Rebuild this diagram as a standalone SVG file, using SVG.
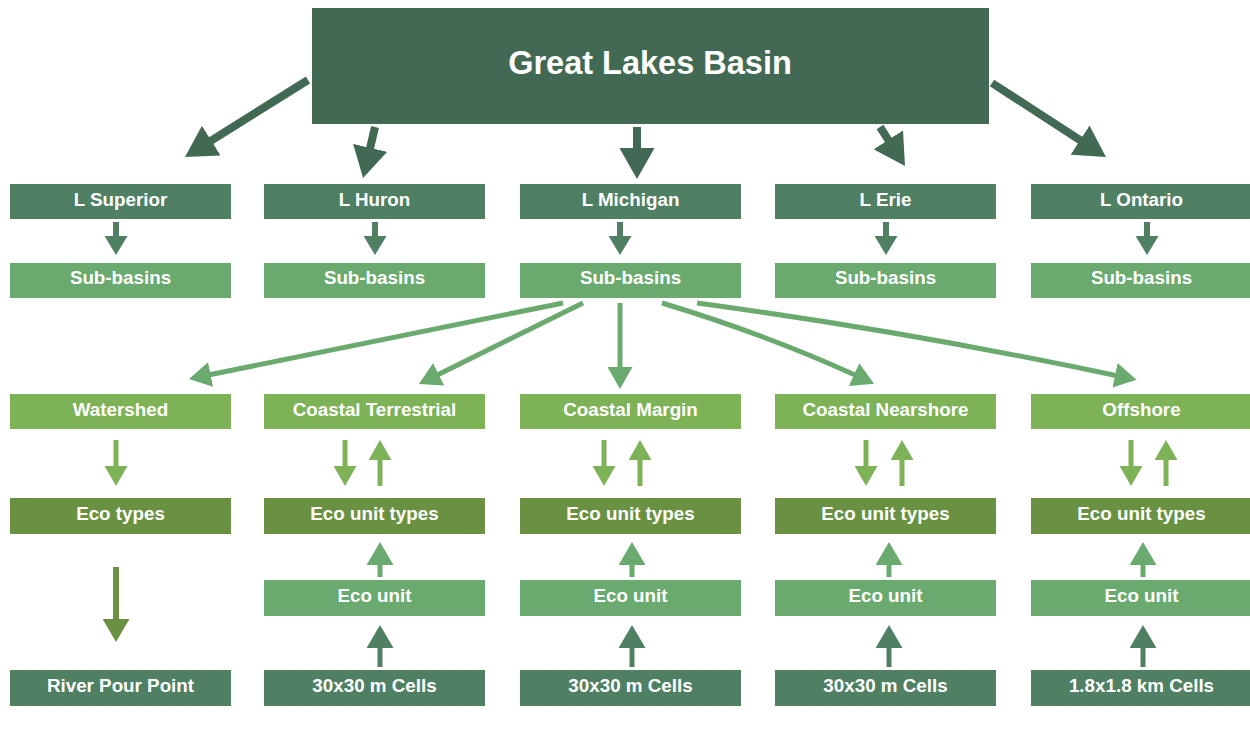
<svg xmlns="http://www.w3.org/2000/svg" width="1250" height="740" viewBox="0 0 1250 740">
<style>
.t{font-family:"Liberation Sans",Arial,sans-serif;font-weight:bold;fill:#ffffff;text-anchor:middle;font-size:18.8px}
.title{font-size:32.5px}
.c0{fill:#426953}
.c1{fill:#4f8063}
.c2{fill:#6aaa6e}
.c3{fill:#7db356}
.c4{fill:#6a9142}
.big{stroke:#426953;stroke-width:8;fill:none}
.s1{stroke:#4f8063;stroke-width:6;fill:none}
.s2{stroke:#6aaa6e;stroke-width:5;fill:none}
.s3{stroke:#7db356;stroke-width:5;fill:none}
.s4{stroke:#6a9142;stroke-width:6;fill:none}
.s5{stroke:#6aaa6e;stroke-width:5;fill:none}
.s6{stroke:#4f8063;stroke-width:5;fill:none}
</style>
<defs>
<marker id="hBig" markerUnits="userSpaceOnUse" markerWidth="31" markerHeight="35" viewBox="0 0 31 35" refX="1" refY="17.5" orient="auto"><path d="M0,0 L31,17.5 L0,35 z" fill="#426953"/></marker>
<marker id="h1" markerUnits="userSpaceOnUse" markerWidth="19" markerHeight="23" viewBox="0 0 19 23" refX="1" refY="11.5" orient="auto"><path d="M0,0 L19,11.5 L0,23 z" fill="#4f8063"/></marker>
<marker id="h2" markerUnits="userSpaceOnUse" markerWidth="22" markerHeight="25" viewBox="0 0 22 25" refX="1" refY="12.5" orient="auto"><path d="M0,0 L22,12.5 L0,25 z" fill="#6aaa6e"/></marker>
<marker id="h3" markerUnits="userSpaceOnUse" markerWidth="20" markerHeight="23" viewBox="0 0 20 23" refX="1" refY="11.5" orient="auto"><path d="M0,0 L20,11.5 L0,23 z" fill="#7db356"/></marker>
<marker id="h4" markerUnits="userSpaceOnUse" markerWidth="23" markerHeight="27" viewBox="0 0 23 27" refX="1" refY="13.5" orient="auto"><path d="M0,0 L23,13.5 L0,27 z" fill="#6a9142"/></marker>
<marker id="h5" markerUnits="userSpaceOnUse" markerWidth="23" markerHeight="27" viewBox="0 0 23 27" refX="1" refY="13.5" orient="auto"><path d="M0,0 L23,13.5 L0,27 z" fill="#6aaa6e"/></marker>
<marker id="h6" markerUnits="userSpaceOnUse" markerWidth="23" markerHeight="27" viewBox="0 0 23 27" refX="1" refY="13.5" orient="auto"><path d="M0,0 L23,13.5 L0,27 z" fill="#4f8063"/></marker>
</defs>

<g id="connectors">
<line class="big" x1="308" y1="80" x2="210.4" y2="141.1" marker-end="url(#hBig)"/>
<line class="big" x1="375" y1="127" x2="369.9" y2="148.8" marker-end="url(#hBig)"/>
<line class="big" x1="637" y1="127" x2="637" y2="149" marker-end="url(#hBig)"/>
<line class="big" x1="880" y1="127" x2="888.8" y2="140.7" marker-end="url(#hBig)"/>
<line class="big" x1="992" y1="83" x2="1080.8" y2="140.7" marker-end="url(#hBig)"/>

<line class="s1" x1="116" y1="222" x2="116" y2="237" marker-end="url(#h1)"/>
<line class="s1" x1="375" y1="222" x2="375" y2="237" marker-end="url(#h1)"/>
<line class="s1" x1="620" y1="222" x2="620" y2="237" marker-end="url(#h1)"/>
<line class="s1" x1="886" y1="222" x2="886" y2="237" marker-end="url(#h1)"/>
<line class="s1" x1="1147" y1="222" x2="1147" y2="237" marker-end="url(#h1)"/>

<line class="s2" x1="563" y1="303" x2="209.6" y2="374.8" marker-end="url(#h2)"/>
<line class="s2" x1="583" y1="303" x2="437.8" y2="374.7" marker-end="url(#h2)"/>
<line class="s2" x1="620" y1="303" x2="620" y2="368" marker-end="url(#h2)"/>
<path class="s2" d="M662,303 Q765,334 855,375" marker-end="url(#h2)"/>
<path class="s2" d="M697,303 Q905,331 1116,375.5" marker-end="url(#h2)"/>

<line class="s3" x1="116" y1="440" x2="116" y2="467" marker-end="url(#h3)"/>
<line class="s3" x1="345" y1="440" x2="345" y2="467" marker-end="url(#h3)"/>
<line class="s3" x1="380" y1="486" x2="380" y2="459" marker-end="url(#h3)"/>
<line class="s3" x1="604" y1="440" x2="604" y2="467" marker-end="url(#h3)"/>
<line class="s3" x1="640" y1="486" x2="640" y2="459" marker-end="url(#h3)"/>
<line class="s3" x1="866" y1="440" x2="866" y2="467" marker-end="url(#h3)"/>
<line class="s3" x1="902" y1="486" x2="902" y2="459" marker-end="url(#h3)"/>
<line class="s3" x1="1131" y1="440" x2="1131" y2="467" marker-end="url(#h3)"/>
<line class="s3" x1="1166" y1="486" x2="1166" y2="459" marker-end="url(#h3)"/>

<line class="s4" x1="116" y1="567" x2="116" y2="620" marker-end="url(#h4)"/>

<line class="s5" x1="380" y1="577" x2="380" y2="564" marker-end="url(#h5)"/>
<line class="s5" x1="632" y1="577" x2="632" y2="564" marker-end="url(#h5)"/>
<line class="s5" x1="889" y1="577" x2="889" y2="564" marker-end="url(#h5)"/>
<line class="s5" x1="1143" y1="577" x2="1143" y2="564" marker-end="url(#h5)"/>

<line class="s6" x1="380" y1="667" x2="380" y2="647" marker-end="url(#h6)"/>
<line class="s6" x1="632" y1="667" x2="632" y2="647" marker-end="url(#h6)"/>
<line class="s6" x1="889" y1="667" x2="889" y2="647" marker-end="url(#h6)"/>
<line class="s6" x1="1143" y1="667" x2="1143" y2="647" marker-end="url(#h6)"/>
</g>

<g id="basin"><rect class="c0" x="312" y="8" width="677" height="116"/><text class="t title" x="650" y="74">Great Lakes Basin</text></g>

<g id="superior"><rect class="c1" x="10" y="184" width="221" height="35"/><text class="t" x="120.5" y="206">L Superior</text></g>
<g id="huron"><rect class="c1" x="264" y="184" width="221" height="35"/><text class="t" x="374.5" y="206">L Huron</text></g>
<g id="michigan"><rect class="c1" x="520" y="184" width="221" height="35"/><text class="t" x="630.5" y="206">L Michigan</text></g>
<g id="erie"><rect class="c1" x="775" y="184" width="221" height="35"/><text class="t" x="885.5" y="206">L Erie</text></g>
<g id="ontario"><rect class="c1" x="1031" y="184" width="221" height="35"/><text class="t" x="1141.5" y="206">L Ontario</text></g>

<g id="sub1"><rect class="c2" x="10" y="263" width="221" height="35"/><text class="t" x="120.5" y="284">Sub-basins</text></g>
<g id="sub2"><rect class="c2" x="264" y="263" width="221" height="35"/><text class="t" x="374.5" y="284">Sub-basins</text></g>
<g id="sub3"><rect class="c2" x="520" y="263" width="221" height="35"/><text class="t" x="630.5" y="284">Sub-basins</text></g>
<g id="sub4"><rect class="c2" x="775" y="263" width="221" height="35"/><text class="t" x="885.5" y="284">Sub-basins</text></g>
<g id="sub5"><rect class="c2" x="1031" y="263" width="221" height="35"/><text class="t" x="1141.5" y="284">Sub-basins</text></g>

<g id="watershed"><rect class="c3" x="10" y="394" width="221" height="35"/><text class="t" x="120.5" y="416">Watershed</text></g>
<g id="coastal-terrestrial"><rect class="c3" x="264" y="394" width="221" height="35"/><text class="t" x="374.5" y="416">Coastal Terrestrial</text></g>
<g id="coastal-margin"><rect class="c3" x="520" y="394" width="221" height="35"/><text class="t" x="630.5" y="416">Coastal Margin</text></g>
<g id="coastal-nearshore"><rect class="c3" x="775" y="394" width="221" height="35"/><text class="t" x="885.5" y="416">Coastal Nearshore</text></g>
<g id="offshore"><rect class="c3" x="1031" y="394" width="221" height="35"/><text class="t" x="1141.5" y="416">Offshore</text></g>

<g id="eco-types"><rect class="c4" x="10" y="498" width="221" height="36"/><text class="t" x="120.5" y="520">Eco types</text></g>
<g id="eut2"><rect class="c4" x="264" y="498" width="221" height="36"/><text class="t" x="374.5" y="520">Eco unit types</text></g>
<g id="eut3"><rect class="c4" x="520" y="498" width="221" height="36"/><text class="t" x="630.5" y="520">Eco unit types</text></g>
<g id="eut4"><rect class="c4" x="775" y="498" width="221" height="36"/><text class="t" x="885.5" y="520">Eco unit types</text></g>
<g id="eut5"><rect class="c4" x="1031" y="498" width="221" height="36"/><text class="t" x="1141.5" y="520">Eco unit types</text></g>

<g id="eu2"><rect class="c2" x="264" y="580" width="221" height="36"/><text class="t" x="374.5" y="602">Eco unit</text></g>
<g id="eu3"><rect class="c2" x="520" y="580" width="221" height="36"/><text class="t" x="630.5" y="602">Eco unit</text></g>
<g id="eu4"><rect class="c2" x="775" y="580" width="221" height="36"/><text class="t" x="885.5" y="602">Eco unit</text></g>
<g id="eu5"><rect class="c2" x="1031" y="580" width="221" height="36"/><text class="t" x="1141.5" y="602">Eco unit</text></g>

<g id="river"><rect class="c1" x="10" y="670" width="221" height="36"/><text class="t" x="120.5" y="692">River Pour Point</text></g>
<g id="cells2"><rect class="c1" x="264" y="670" width="221" height="36"/><text class="t" x="374.5" y="692">30x30 m Cells</text></g>
<g id="cells3"><rect class="c1" x="520" y="670" width="221" height="36"/><text class="t" x="630.5" y="692">30x30 m Cells</text></g>
<g id="cells4"><rect class="c1" x="775" y="670" width="221" height="36"/><text class="t" x="885.5" y="692">30x30 m Cells</text></g>
<g id="cells5"><rect class="c1" x="1031" y="670" width="221" height="36"/><text class="t" x="1141.5" y="692">1.8x1.8 km Cells</text></g>
</svg>
